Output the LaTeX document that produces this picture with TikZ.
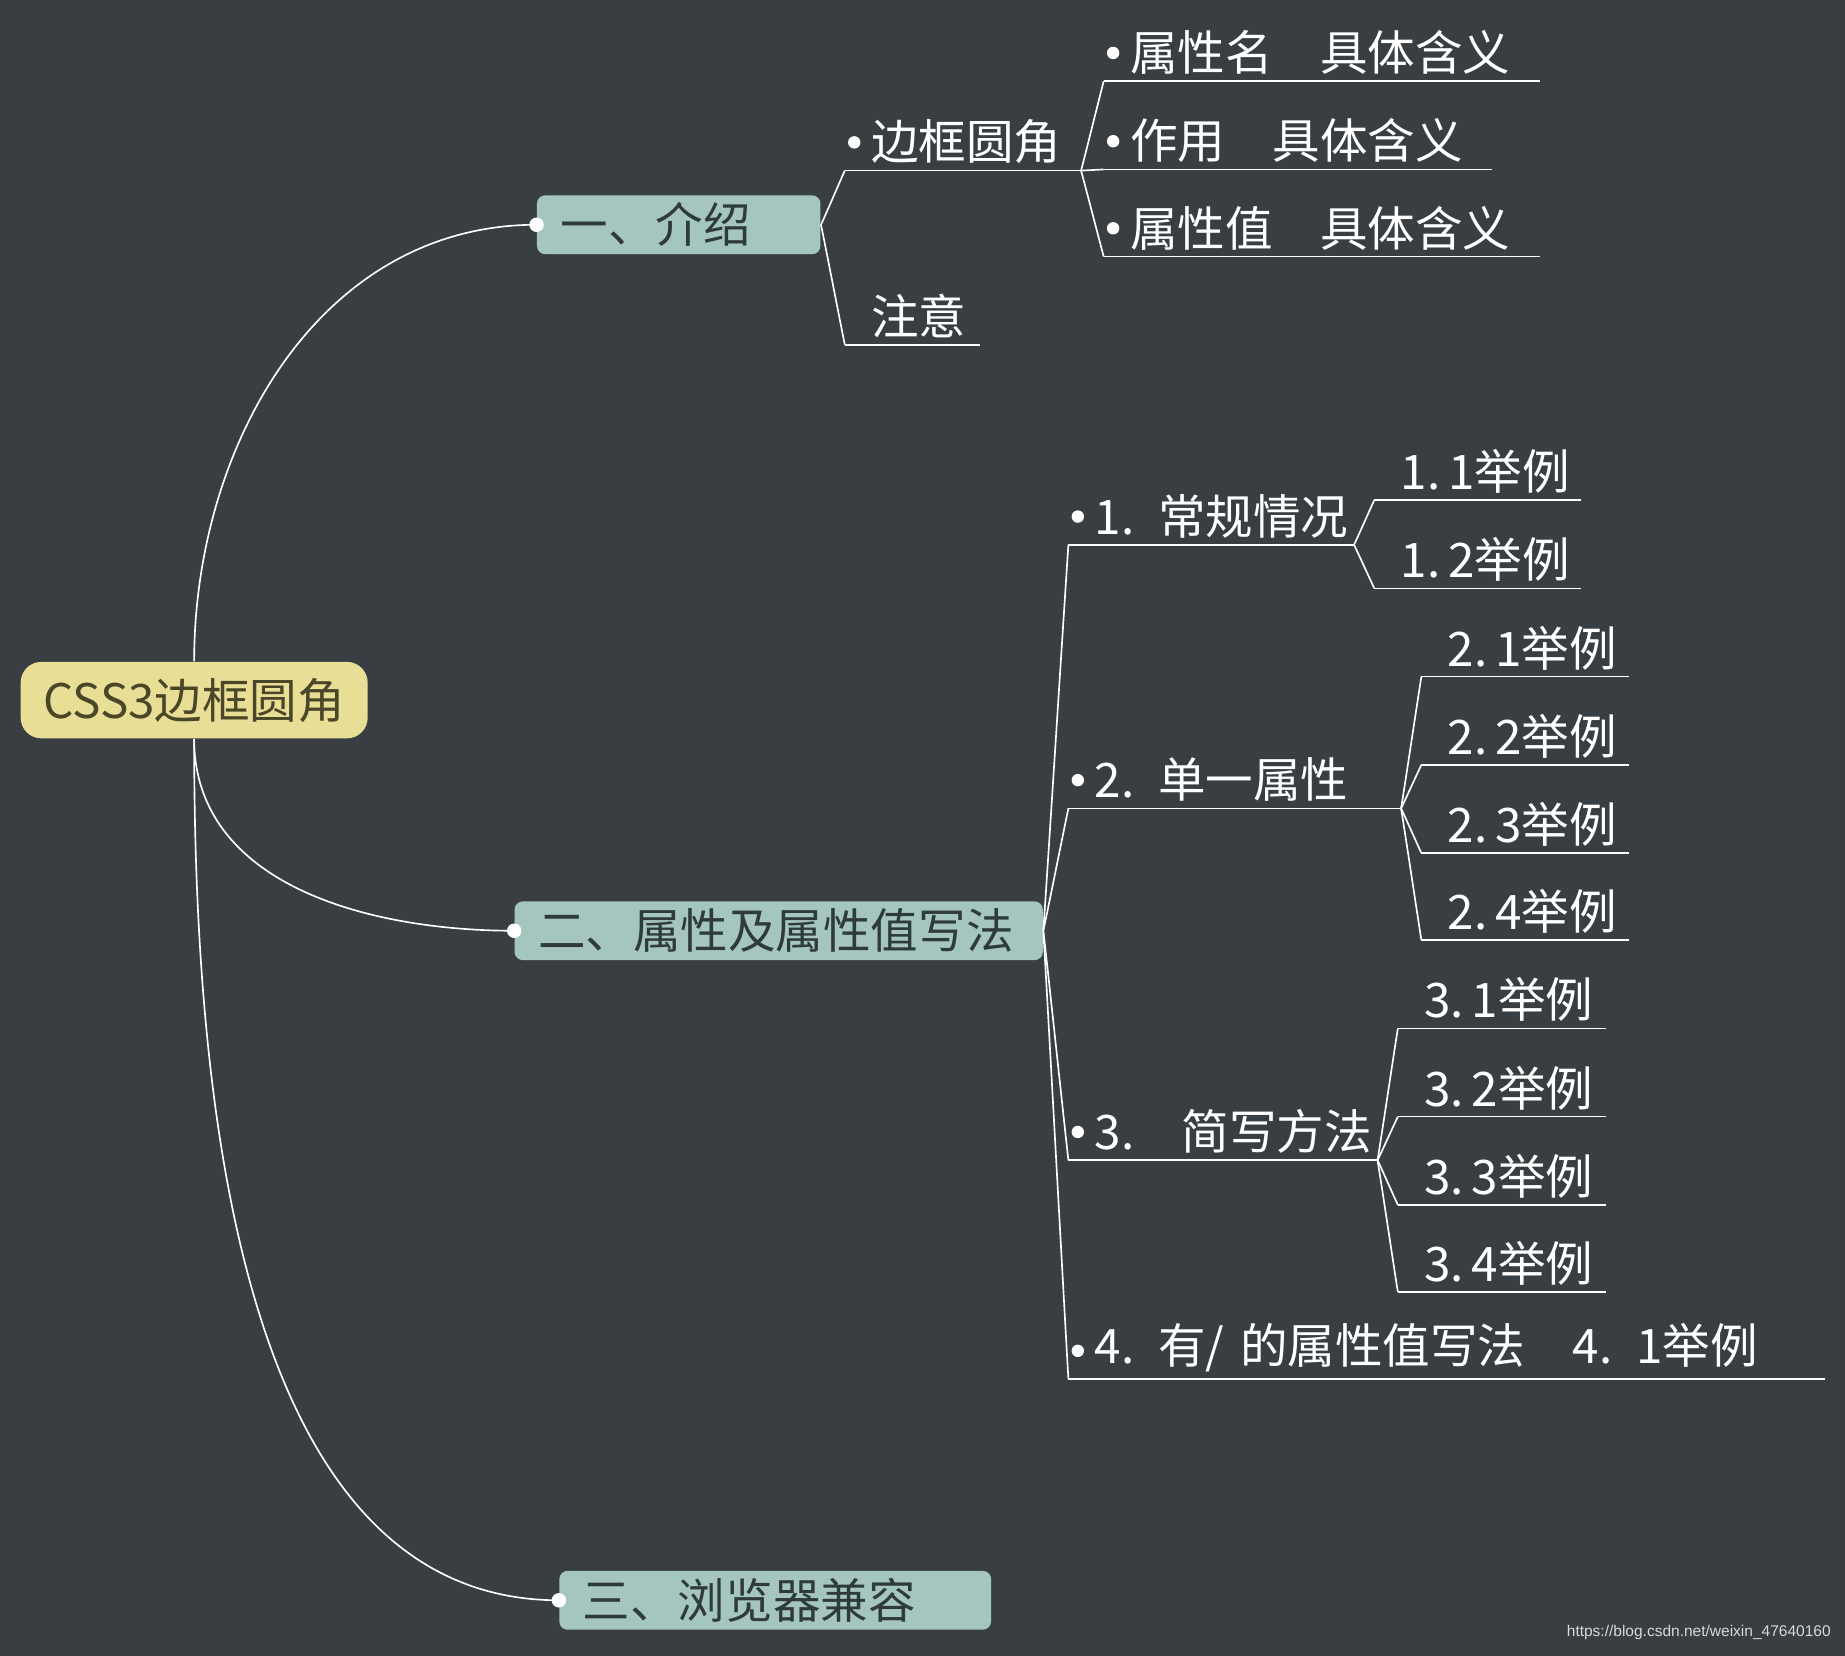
\documentclass[tikz,border=0pt]{standalone}
\usepackage{fontspec}
\setmainfont{Noto Sans CJK SC}
\newfontfamily\markfont{Liberation Sans}
\definecolor{bgslate}{RGB}{56,62,66}
\definecolor{rootfill}{RGB}{232,222,150}
\definecolor{rootink}{RGB}{74,70,40}
\definecolor{tealfill}{RGB}{164,198,190}
\definecolor{tealink}{RGB}{47,59,59}
\tikzset{
  rootbox/.style={draw=none, fill=rootfill, text=rootink, rounded corners=10pt, minimum width=5.9cm, minimum height=1.3cm},
  branchbox/.style={draw=none, fill=tealfill, text=tealink, rounded corners=4pt, minimum height=1cm, anchor=west,
    inner xsep=0.4cm, text width=#1, align=left},
  item/.style={anchor=south west, inner xsep=0pt, inner ysep=3pt, text width=#1, align=left, text=white,
    append after command={(\tikzlastnode.south west) edge[draw=white, thick] (\tikzlastnode.south east)}},
  dotted item/.style={item=#1,
    append after command={([xshift=0.16cm, yshift=0.48cm]\tikzlastnode.south west) node[circle, fill=white, inner sep=0pt, minimum size=6pt] {}}},
  link/.style={draw=white, thick, to path={(\tikztostart) .. controls +(0.35,0) and +(-0.2,0) .. (\tikztotarget)}},
  trunk/.style={draw=white, thick},
}
\newcommand{\pad}{\hspace*{0.44cm}}
\begin{document}
\begin{tikzpicture}[x=0.02cm, y=-0.02cm, every node/.style={font=\fontsize{23}{28}\selectfont}]
  \useasboundingbox[fill=bgslate] (0,0) rectangle (1568,1407);

  % root and main branches
  \node[rootbox] (root) at (165,595) {CSS3边框圆角};
  \node[branchbox=4.02cm] (intro) at (456,191) {一、介绍};
  \node[branchbox=8.18cm] (attr) at (437,791) {二、属性及属性值写法};
  \node[branchbox=6.54cm] (compat) at (475,1360) {三、浏览器兼容};

  \draw[trunk] (root.north) to[out=90, in=180] (intro.west);
  \draw[trunk] (root.south) to[out=-90, in=180] (attr.west);
  \draw[trunk] (root.south) to[out=-90, in=180, looseness=0.9] (compat.west);
  \foreach \b in {intro, attr, compat}
    \fill[white] (\b.west) circle (3.5pt);

  % 一、介绍
  \node[dotted item=4cm] (radius) at (718,145) {\pad 边框圆角};
  \node[item=2.28cm] (note) at (718,293) {\pad 注意};
  \node[dotted item=7.4cm] (pname) at (938,69) {\pad 属性名\quad 具体含义};
  \node[dotted item=6.58cm] (puse) at (938,144) {\pad 作用\quad 具体含义};
  \node[dotted item=7.4cm] (pval) at (938,218) {\pad 属性值\quad 具体含义};
  \foreach \c in {radius, note}
    \draw[link] (intro.east) to (\c.south west);
  \foreach \c in {pname, puse, pval}
    \draw[link] (radius.south east) to (\c.south west);

  % 二、属性及属性值写法
  \node[dotted item=4.84cm] (s1) at (908,463) {\pad 1. 常规情况};
  \node[dotted item=5.64cm] (s2) at (908,687) {\pad 2. 单一属性};
  \node[dotted item=5.24cm] (s3) at (908,986) {\pad 3.\quad 简写方法};
  \node[dotted item=12.84cm] (s4) at (908,1172) {\pad 4. 有/ 的属性值写法\quad 4. 1举例};
  \foreach \c in {s1, s2, s3, s4}
    \draw[link] (attr.east) to (\c.south west);

  \foreach \k/\y in {1/425, 2/500}
  {
    \node[item=3.5cm] (e1\k) at (1168,\y) {\pad\mbox{1.\,\k 举例}};
    \draw[link] (s1.south east) to (e1\k.south west);
  }
  \foreach \k/\y in {1/575, 2/650, 3/725, 4/799}
  {
    \node[item=3.52cm] (e2\k) at (1208,\y) {\pad\mbox{2.\,\k 举例}};
    \draw[link] (s2.south east) to (e2\k.south west);
  }
  \foreach \k/\y in {1/874, 2/949, 3/1024, 4/1098}
  {
    \node[item=3.52cm] (e3\k) at (1188,\y) {\pad\mbox{3.\,\k 举例}};
    \draw[link] (s3.south east) to (e3\k.south west);
  }

  % watermark
  \node[anchor=south east, text=white!80!bgslate, font=\markfont\fontsize{7.5}{9}\selectfont] (mark) at (1562,1400) {https://blog.csdn.net/weixin\_47640160};
\end{tikzpicture}
\end{document}
